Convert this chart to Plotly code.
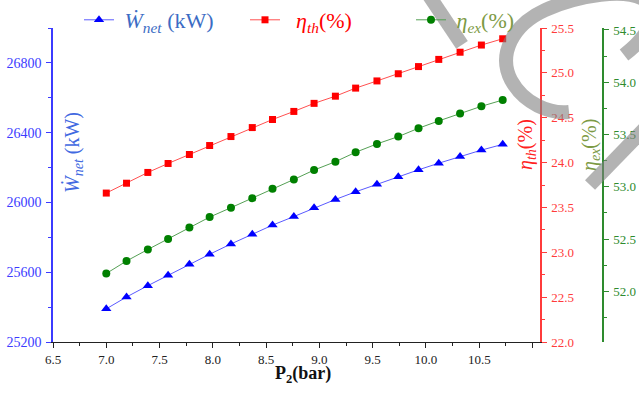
import plotly.graph_objects as go

# ---- data ----
p2_bar = [7.00, 7.19, 7.39, 7.58, 7.78, 7.97, 8.17, 8.37, 8.56, 8.76,
          8.95, 9.15, 9.34, 9.54, 9.74, 9.93, 10.12, 10.32, 10.52, 10.72]
w_net_kw = [25390, 25458, 25523, 25583, 25646, 25703, 25762, 25818, 25870, 25919,
            25969, 26017, 26061, 26105, 26147, 26187, 26225, 26264, 26300, 26333]
eta_th = [23.66, 23.77, 23.89, 23.99, 24.09, 24.19, 24.29, 24.39, 24.48, 24.57,
          24.66, 24.74, 24.83, 24.91, 24.99, 25.07, 25.15, 25.23, 25.31, 25.38]
eta_ex = [52.17, 52.29, 52.40, 52.50, 52.61, 52.71, 52.80, 52.89, 52.98, 53.07,
          53.16, 53.24, 53.33, 53.41, 53.48, 53.56, 53.63, 53.70, 53.77, 53.83]

x_tickvals = [6.5, 7.0, 7.5, 8.0, 8.5, 9.0, 9.5, 10.0, 10.5, 11.0]
x_ticktext = ["6.5", "7.0", "7.5", "8.0", "8.5", "9.0", "9.5", "10.0", "10.5", ""]
w_tickvals = [25200, 25600, 26000, 26400, 26800]
th_tickvals = [22.0, 22.5, 23.0, 23.5, 24.0, 24.5, 25.0, 25.5]
ex_tickvals = [51.5, 52.0, 52.5, 53.0, 53.5, 54.0, 54.5]

# ---- layout geometry (window pixels) ----
W, H = 639, 394
PL, PR, PT, PB = 53, 603, 28, 342          # plot area in window pixels
ML, MR, MT, MB = PL, W - PR, PT, H - PB
PW = PR - PL
PH = PB - PT
XDOM_END = (540 - PL) / PW

def px(xp):
    return (xp - PL) / PW

def py(yp):
    return (PB - yp) / PH

SERIF = "Liberation Serif, Times New Roman, serif"
BLUE_AX = "#3b3bff"
RED_AX = "#ff3b3b"
GREEN_AX = "#2e8b2e"

fig = go.Figure()
fig.add_trace(go.Scatter(
    x=p2_bar, y=w_net_kw, mode="lines+markers", yaxis="y",
    name='<span style="color:#3c6cc4">&nbsp;<i>\u1E86</i><sub><i>net</i></sub> (kW)</span>',
    line=dict(color="#5a5aff", width=1),
    marker=dict(symbol="triangle-up", size=9, color="#0000ff")))
fig.add_trace(go.Scatter(
    x=p2_bar, y=eta_th, mode="lines+markers", yaxis="y2",
    name='<span style="color:#ff0000">&nbsp;&nbsp;<i>\u03b7</i><sub><i>th</i></sub>(%)</span>',
    line=dict(color="#ff5050", width=1),
    marker=dict(symbol="square", size=7, color="#ff0000")))
fig.add_trace(go.Scatter(
    x=p2_bar, y=eta_ex, mode="lines+markers", yaxis="y3",
    name='<span style="color:#7d9a45">&nbsp;<i>\u03b7</i><sub><i>ex</i></sub>(%)</span>',
    line=dict(color="#55a055", width=1),
    marker=dict(symbol="circle", size=8, color="#008000")))

tickfont = lambda c: dict(family=SERIF, size=13, color=c)

fig.update_layout(
    width=W, height=H,
    margin=dict(l=ML, r=MR, t=MT, b=MB, pad=0, autoexpand=False),
    paper_bgcolor="white", plot_bgcolor="white",
    showlegend=True,
    legend=dict(orientation="h", x=px(79), y=py(20), xanchor="left", yanchor="middle",
                font=dict(family=SERIF, size=22), bgcolor="rgba(0,0,0,0)",
                entrywidth=121, entrywidthmode="pixels", tracegroupgap=0),
    xaxis=dict(domain=[0, XDOM_END], range=[6.5, 11.07], showgrid=False, zeroline=False,
               automargin=False,
               showline=True, linecolor="#222222", linewidth=1.3,
               tickmode="array", tickvals=x_tickvals, ticktext=x_ticktext,
               ticks="outside", ticklen=5, tickcolor="#222222", tickwidth=1,
               minor=dict(ticks="outside", ticklen=3, dtick=0.25, tick0=6.5,
                          tickcolor="#222222", showgrid=False),
               tickfont=tickfont("#222222")),
    yaxis=dict(range=[25200, 27000], showgrid=False, zeroline=False, automargin=False,
               showline=True, linecolor=BLUE_AX, linewidth=1.5,
               tickmode="array", tickvals=w_tickvals, tickformat="d",
               ticks="outside", ticklen=5, tickcolor=BLUE_AX, ticklabelstandoff=2,
               minor=dict(ticks="outside", ticklen=3, dtick=200, tick0=25200,
                          tickcolor=BLUE_AX, showgrid=False),
               tickfont=dict(family=SERIF, size=14, color=BLUE_AX)),
    yaxis2=dict(range=[22.0, 25.5], overlaying="y", side="right", anchor="x",
                showgrid=False, zeroline=False, automargin=False,
                showline=True, linecolor=RED_AX, linewidth=1.5,
                tickmode="array", tickvals=th_tickvals, tickformat=".1f",
                ticks="outside", ticklen=5, tickcolor=RED_AX, ticklabelstandoff=2,
                minor=dict(ticks="outside", ticklen=3, dtick=0.25, tick0=22,
                           tickcolor=RED_AX, showgrid=False),
                tickfont=tickfont(RED_AX)),
    yaxis3=dict(range=[51.515, 54.519], overlaying="y", side="right", anchor="free",
                position=1.0, showgrid=False, zeroline=False, automargin=False,
                showline=True, linecolor=GREEN_AX, linewidth=1.5,
                tickmode="array", tickvals=ex_tickvals, tickformat=".1f",
                ticks="outside", ticklen=5, tickcolor=GREEN_AX, ticklabelstandoff=2,
                minor=dict(ticks="outside", ticklen=3, dtick=0.25, tick0=51.5,
                           tickcolor=GREEN_AX, showgrid=False),
                tickfont=tickfont(GREEN_AX)),
)

# axis titles
def title_ann(text, xw, yw, size, color, angle):
    fig.add_annotation(text=text, textangle=angle, xref="paper", yref="paper",
                       x=px(xw), y=py(yw), xanchor="center", yanchor="middle",
                       showarrow=False, font=dict(family=SERIF, size=size, color=color))

title_ann("<i>\u1E86</i><sub><i>net</i></sub> (kW)", 73, 153, 20, "#4169e1", -90)
title_ann("<i>\u03b7</i><sub><i>th</i></sub>(%)", 526, 145, 20, "#ff2020", -90)
title_ann("<i>\u03b7</i><sub><i>ex</i></sub>(%)", 590, 145, 20, "#7d9a45", -90)
title_ann("<b>P<sub>2</sub>(bar)</b>", 303, 374, 18, "#111111", 0)

# gray watermark strokes overlaying the image
def pth(points_cmd):
    out = []
    for tok in points_cmd:
        if isinstance(tok, str):
            out.append(tok)
        else:
            out.append(f"{px(tok[0]):.4f},{py(tok[1]):.4f}")
    return " ".join(out)

gray = "rgba(128,128,128,0.6)"
arc = pth(["M", (569, 112), "C", (550, 114), (524, 104), (511, 80),
           "C", (498, 55), (512, 25), (545, 10),
           "C", (580, -5), (625, -12), (645, 0),
           "C", (660, 12), (650, 35), (624, 55)])
d1 = pth(["M", (424, -12), "L", (462, 45)])
d2 = pth(["M", (652, 121), "L", (590, 185)])
for p in (arc, d1, d2):
    fig.add_shape(type="path", path=p, xref="paper", yref="paper",
                  line=dict(color=gray, width=14), layer="above")

fig.write_html("out.html", config={"displayModeBar": False},
               post_script="document.body.style.margin='0';document.body.style.overflow='hidden';")
